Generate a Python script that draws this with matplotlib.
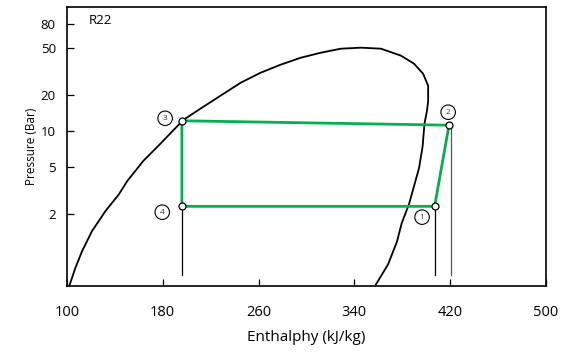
import matplotlib
matplotlib.use("Agg")
import matplotlib.pyplot as plt
from matplotlib.ticker import FixedLocator, NullLocator

plt.rcParams['font.family'] = ['Open Sans', 'DejaVu Sans']

# saturation dome
dome_h = [101.4, 107.0, 112.6, 120.9, 132.1, 143.3, 150.3, 163.7, 177.9, 197.2, 211.4,
          228.2, 244.9, 261.7, 278.4, 295.2, 311.9, 328.7, 345.4, 362.2, 378.9, 389.8, 397.4,
          401.6, 401.6, 400.6, 398.5, 397.0, 394.0, 385.6, 379.5, 375.6, 368.1, 358.0]
dome_p = [0.479, 0.705, 0.975, 1.44, 2.12, 2.93, 3.79, 5.6, 7.8, 12.4, 15.4,
          19.8, 25.4, 30.9, 36.1, 41.3, 45.5, 49.2, 50.2, 49.2, 43.0, 36.8, 30.3,
          24.0, 17.9, 14.8, 11.5, 7.48, 4.89, 2.43, 1.68, 1.18, 0.757, 0.514]

# refrigeration cycle points 1..4
cyc_h = [407, 419, 196, 196]
cyc_p = [2.33, 11.2, 12.2, 2.33]
cyc_lbl = ['1', '2', '3', '4']
lbl_h = [396.5, 418.3, 182, 179.6]
lbl_p = [1.89, 14.4, 12.8, 2.08]

xticks = [100, 180, 260, 340, 420, 500]
yticks = [2, 5, 10, 20, 50, 80]

fig = plt.figure(figsize=(5.67, 3.56), dpi=100)
ax = fig.add_axes([0.118, 0.197, 0.845, 0.783])
ax.set_yscale('log')

ax.plot(dome_h, dome_p, color='black', lw=1.3, solid_joinstyle='round')

# thin drop lines below points 4, 1, 2
ax.plot([cyc_h[3], cyc_h[3]], [0.62, cyc_p[3]], color='black', lw=0.9)
ax.plot([cyc_h[0], cyc_h[0]], [0.62, cyc_p[0]], color='black', lw=0.9)
ax.plot([421, 421], [0.62, cyc_p[1]], color='#555555', lw=0.9)

loop_h = cyc_h + [cyc_h[0]]
loop_p = cyc_p + [cyc_p[0]]
ax.plot(loop_h, loop_p, color='#00b050', lw=2)
ax.plot(cyc_h, cyc_p, 'o', ms=5, mfc='white', mec='black', mew=0.9, zorder=5)

for t, x, y in zip(cyc_lbl, lbl_h, lbl_p):
    ax.text(x, y, t, fontsize=6, ha='center', va='center', color='#333333',
            bbox=dict(boxstyle='circle,pad=0.45', fc='white', ec='black', lw=0.8))

ax.text(128, 85, 'R22', fontsize=9.5, ha='center', va='center')

ax.set_xlim(100, 500)
ax.set_ylim(0.5, 110)
ax.set_xticks(xticks)
ax.yaxis.set_major_locator(FixedLocator(yticks))
ax.yaxis.set_minor_locator(NullLocator())
ax.set_yticklabels([str(v) for v in yticks])
ax.tick_params(axis='both', direction='in', length=5, width=0.9)
ax.tick_params(axis='x', labelsize=10.5, pad=14)
ax.tick_params(axis='y', labelsize=9.5, pad=8)
for s in ax.spines.values():
    s.set_linewidth(1.2)

ax.set_xlabel('Enthalphy (kJ/kg)', fontsize=11, labelpad=7)
ax.set_ylabel('Pressure (Bar)', fontsize=8.5, labelpad=2)

fig.savefig('out.png', dpi=100)
